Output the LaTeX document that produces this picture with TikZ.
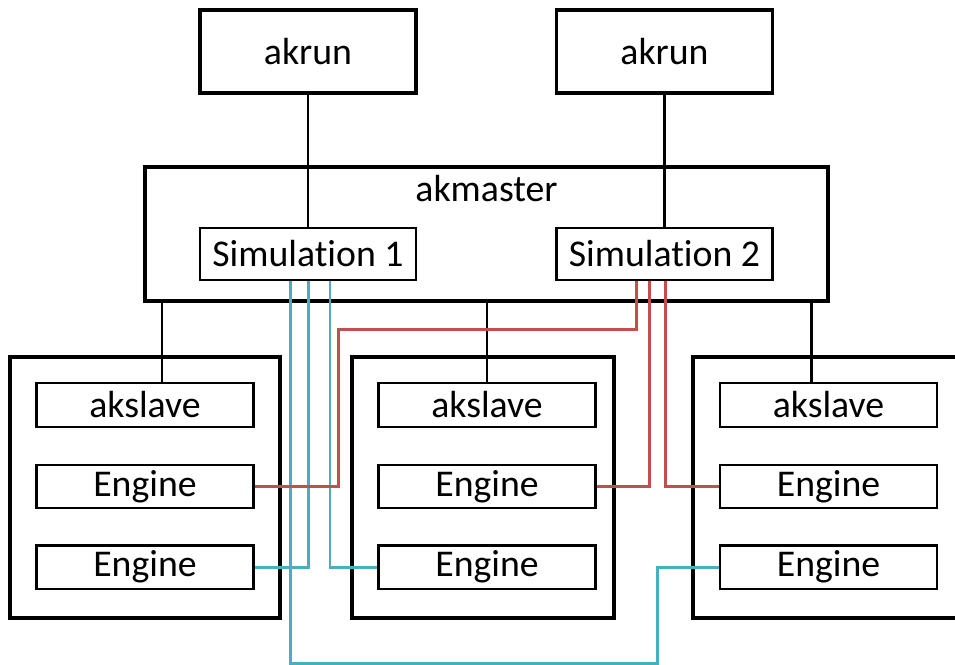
\documentclass[tikz,border=0pt]{standalone}
\usepackage{fontspec}
\setmainfont[RawFeature={-liga;-clig;-dlig;-calt}]{Carlito}
\usepackage{xcolor}
\usepackage{tikz}
\usetikzlibrary{positioning}
\definecolor{simblue}{HTML}{4BACC6}
\definecolor{simred}{HTML}{C0504D}

\begin{document}
\begin{tikzpicture}[
  x=0.02cm, y=-0.02cm,
  font=\fontsize{21.5}{26}\selectfont,
  launcher/.style={draw, line width=2pt, minimum width=4.32cm, minimum height=1.66cm},
  master/.style={draw, line width=2pt, minimum width=13.66cm, minimum height=2.68cm},
  sim/.style={draw, line width=1.4pt, minimum width=4.32cm, minimum height=1.04cm, inner sep=0pt},
  host/.style={draw, line width=2pt, minimum height=5.22cm},
  proc/.style={draw, line width=1.4pt, minimum width=4.34cm, minimum height=0.87cm, inner sep=0pt},
  wire/.style={line width=1.3pt, draw=black},
  bluewire/.style={line width=1.7pt, draw=simblue},
  redwire/.style={line width=1.7pt, draw=simred}
]
  \useasboundingbox (0,0) rectangle (955,664);

  % launchers and master
  \node[launcher] (akrunA) at (308,51.5) {akrun};
  \node[launcher] (akrunB) at (664.5,51.5) {akrun};
  \node[master, label={[anchor=north, yshift=-2pt]north:akmaster}] (akmaster) at (486.5,234) {};
  \node[sim] (simA) at (308,254) {Simulat\kern0pt ion 1};
  \node[sim] (simB) at (664.5,254) {Simulat\kern0pt ion 2};

  % hosts
  \node[host, minimum width=5.4cm] (hostA) at (145,487.5) {};
  \node[host, minimum width=5.24cm] (hostB) at (483,487.5) {};
  \node[host, minimum width=5.38cm] (hostC) at (827.5,487.5) {};

  \node[proc] (slaveA) at (145,405) {akslave};
  \node[proc] (engineA1) at (145,486.5) {Engine};
  \node[proc] (engineA2) at (145,567) {Engine};
  \node[proc] (slaveB) at (487,405) {akslave};
  \node[proc] (engineB1) at (487,486.5) {Engine};
  \node[proc] (engineB2) at (487,567) {Engine};
  \node[proc] (slaveC) at (828.5,405) {akslave};
  \node[proc] (engineC1) at (828.5,486.5) {Engine};
  \node[proc] (engineC2) at (828.5,567) {Engine};

  \coordinate (redturn) at (338,329);
  \coordinate (blueturn) at (657,663);

  \draw[wire] (akrunA) -- (simA);
  \draw[wire] (akrunB) -- (simB);
  \draw[wire] ([xshift=0.34cm]slaveA.north) -- ([xshift=0.34cm]slaveA.north |- akmaster.south);
  \draw[wire] (slaveB.north) -- (slaveB.north |- akmaster.south);
  \draw[wire] ([xshift=-0.34cm]slaveC.north) -- ([xshift=-0.34cm]slaveC.north |- akmaster.south);

  % simulation 1 engines
  \draw[bluewire] ([xshift=-0.36cm]simA.south) |- (blueturn) |- (engineC2.west);
  \draw[bluewire] (simA.south) |- (engineA2.east);
  \draw[bluewire] ([xshift=0.44cm]simA.south) |- (engineB2.west);

  % simulation 2 engines
  \draw[redwire] ([xshift=-0.57cm]simB.south) |- (redturn) |- (engineA1.east);
  \draw[redwire] ([xshift=-0.31cm]simB.south) |- (engineB1.east);
  \draw[redwire] ([xshift=0.02cm]simB.south) |- (engineC1.west);
\end{tikzpicture}
\end{document}
